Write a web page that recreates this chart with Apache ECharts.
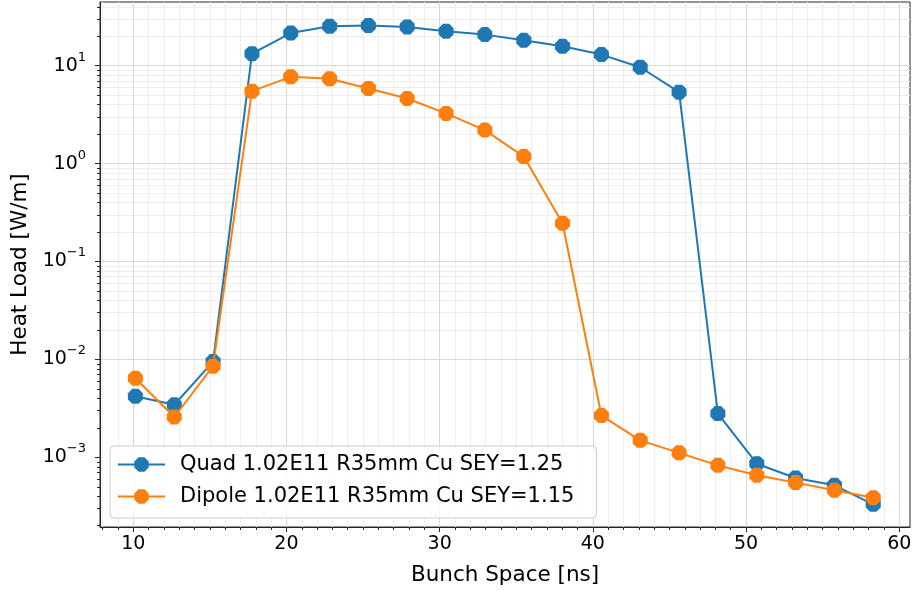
<!DOCTYPE html>
<html>
<head>
<meta charset="utf-8">
<script src="https://cdn.jsdelivr.net/npm/echarts@6/dist/echarts.min.js"></script>
<style>
  html, body { margin: 0; padding: 0; background: #ffffff; }
  #chart { width: 915px; height: 591px; }
</style>
</head>
<body>
<div id="chart"></div>
<script>
// ---- data ----
const bunchSpace = [10.14, 12.68, 15.21, 17.75, 20.28, 22.82, 25.35, 27.88, 30.42, 32.95,
                    35.49, 38.02, 40.56, 43.09, 45.63, 48.16, 50.70, 53.23, 55.77, 58.30];
const quadLoad = [4.2e-3, 3.44e-3, 9.5e-3, 13.3, 21.6, 25.3, 25.7, 24.9, 22.5, 20.8,
                  18.2, 15.8, 13.0, 9.66, 5.37, 2.8e-3, 8.6e-4, 6.15e-4, 5.17e-4, 3.31e-4];
const dipoleLoad = [6.43e-3, 2.58e-3, 8.53e-3, 5.50, 7.70, 7.35, 5.86, 4.63, 3.26, 2.20,
                    1.18, 0.246, 2.67e-3, 1.49e-3, 1.11e-3, 8.27e-4, 6.55e-4, 5.51e-4, 4.60e-4, 3.87e-4];
const seriesNames = ['Quad 1.02E11 R35mm Cu SEY=1.25', 'Dipole 1.02E11 R35mm Cu SEY=1.15'];

const xMajorTicks = [10, 20, 30, 40, 50, 60];
const xMinorTicks = [8, 9, 11, 12, 13, 14, 15, 16, 17, 18, 19, 21, 22, 23, 24, 25, 26, 27, 28, 29,
                     31, 32, 33, 34, 35, 36, 37, 38, 39, 41, 42, 43, 44, 45, 46, 47, 48, 49,
                     51, 52, 53, 54, 55, 56, 57, 58, 59];
const yMajorTicks = [1e-3, 1e-2, 1e-1, 1, 10];
const yMinorTicks = [2e-4, 3e-4, 4e-4, 5e-4, 6e-4, 7e-4, 8e-4, 9e-4,
                     2e-3, 3e-3, 4e-3, 5e-3, 6e-3, 7e-3, 8e-3, 9e-3,
                     2e-2, 3e-2, 4e-2, 5e-2, 6e-2, 7e-2, 8e-2, 9e-2,
                     0.2, 0.3, 0.4, 0.5, 0.6, 0.7, 0.8, 0.9,
                     2, 3, 4, 5, 6, 7, 8, 9, 20, 30, 40];
const xRange = [7.83, 60.7];
const yRange = [1.94e-4, 44.8];

// ---- styles ----
const FONT = 'DejaVu Sans';
const octagon = 'path://M0.383,-0.924L0.924,-0.383L0.924,0.383L0.383,0.924L-0.383,0.924L-0.924,0.383L-0.924,-0.383L-0.383,-0.924Z';
const majorGrid = { color: '#d8d8d8', width: 1, type: 'solid' };
const minorGrid = { color: '#eeeeee', width: 1, type: 'solid' };

const gridLines = [];
xMinorTicks.forEach(v => gridLines.push({ xAxis: v, lineStyle: minorGrid }));
yMinorTicks.forEach(v => gridLines.push({ yAxis: v, lineStyle: minorGrid }));
xMajorTicks.forEach(v => gridLines.push({ xAxis: v, lineStyle: majorGrid }));
yMajorTicks.forEach(v => gridLines.push({ yAxis: v, lineStyle: majorGrid }));

function sup(v) {
  const e = Math.round(Math.log10(v));
  const s = e < 0 ? '\u2212' + (-e) : String(e);
  return '{b|10}{s|' + s + '}';
}

const chart = echarts.init(document.getElementById('chart'), null, { renderer: 'canvas' });
chart.setOption({
  animation: false,
  backgroundColor: '#ffffff',
  textStyle: { fontFamily: FONT },
  grid: { left: 100, right: 5, top: 2, bottom: 63, show: true, borderColor: '#262626', borderWidth: 1, backgroundColor: 'transparent', containLabel: false },
  legend: {
    orient: 'vertical',
    left: 110, top: 446,
    itemWidth: 47, itemHeight: 18, itemGap: 11,
    padding: [8, 22, 11, 7],
    backgroundColor: 'rgba(255,255,255,0.8)',
    borderColor: '#cccccc', borderWidth: 1, borderRadius: 4,
    textStyle: { fontFamily: FONT, fontSize: 21, color: '#000000', padding: [0, 0, 0, 10] },
    data: seriesNames
  },
  xAxis: [{
    type: 'value', min: xRange[0], max: xRange[1], position: 'bottom',
    name: 'Bunch Space [ns]', nameLocation: 'middle', nameGap: 37,
    nameTextStyle: { fontFamily: FONT, fontSize: 21.5, color: '#000000' },
    axisLine: { show: true, onZero: false, lineStyle: { color: '#262626', width: 1 } },
    axisTick: { show: true, length: 5, customValues: xMajorTicks, lineStyle: { color: '#262626' } },
    axisLabel: { show: true, customValues: xMajorTicks, margin: 8, fontFamily: FONT, fontSize: 19, color: '#000000' },
    splitLine: { show: false }
  }, {
    type: 'value', min: xRange[0], max: xRange[1], position: 'bottom',
    axisLine: { show: false, onZero: false },
    axisTick: { show: true, length: 3, customValues: xMinorTicks, lineStyle: { color: '#262626' } },
    axisLabel: { show: false },
    splitLine: { show: false }
  }],
  yAxis: [{
    type: 'log', logBase: 10, min: yRange[0], max: yRange[1], position: 'left',
    name: 'Heat Load [W/m]', nameLocation: 'middle', nameGap: 67,
    nameTextStyle: { fontFamily: FONT, fontSize: 21.5, color: '#000000' },
    axisLine: { show: true, onZero: false, lineStyle: { color: '#262626', width: 1 } },
    axisTick: { show: true, length: 5, customValues: yMajorTicks, lineStyle: { color: '#262626' } },
    axisLabel: {
      show: true, customValues: yMajorTicks, margin: 14,
      formatter: v => sup(v),
      rich: {
        b: { fontFamily: FONT, fontSize: 19, color: '#000000', lineHeight: 30 },
        s: { fontFamily: FONT, fontSize: 13, color: '#000000', verticalAlign: 'top' }
      }
    },
    splitLine: { show: false }
  }, {
    type: 'log', logBase: 10, min: yRange[0], max: yRange[1], position: 'left',
    axisLine: { show: false, onZero: false },
    axisTick: { show: true, length: 3, customValues: yMinorTicks, lineStyle: { color: '#262626' } },
    axisLabel: { show: false },
    splitLine: { show: false }
  }],
  series: [{
    type: 'line', name: '__grid', data: [], xAxisIndex: 0, yAxisIndex: 0, silent: true, z: 0,
    markLine: { silent: true, symbol: ['none', 'none'], z: 0, label: { show: false }, animation: false, data: gridLines }
  }, {
    type: 'line', name: seriesNames[0], xAxisIndex: 0, yAxisIndex: 0, z: 3,
    data: bunchSpace.map((x, i) => [x, quadLoad[i]]),
    symbol: octagon, symbolSize: 15,
    itemStyle: { color: '#1f77b4' },
    lineStyle: { color: '#1f77b4', width: 2 },
    emphasis: { disabled: true }
  }, {
    type: 'line', name: seriesNames[1], xAxisIndex: 0, yAxisIndex: 0, z: 4,
    data: bunchSpace.map((x, i) => [x, dipoleLoad[i]]),
    symbol: octagon, symbolSize: 15,
    itemStyle: { color: '#ff7f0e' },
    lineStyle: { color: '#ff7f0e', width: 2 },
    emphasis: { disabled: true }
  }]
});
</script>
</body>
</html>
